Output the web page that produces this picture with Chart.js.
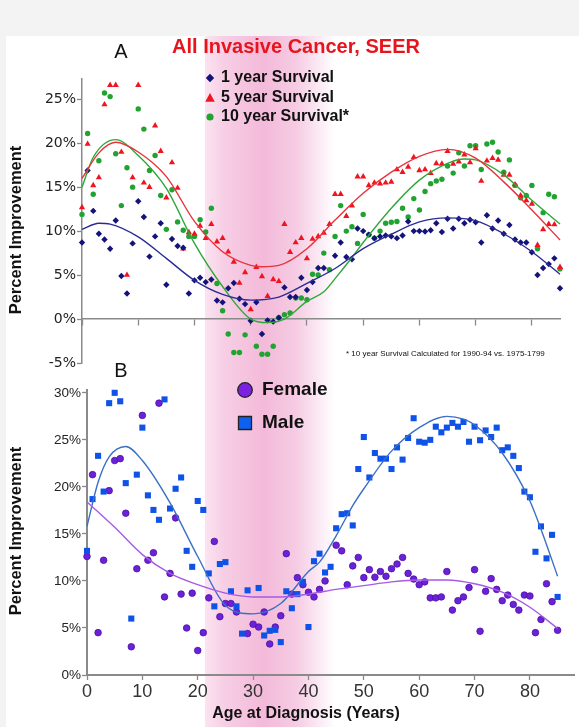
<!DOCTYPE html>
<html><head><meta charset="utf-8">
<script src="https://cdn.jsdelivr.net/npm/chart.js@4/dist/chart.umd.min.js"></script>
<style>
html,body{margin:0;padding:0;background:#fff;}
#wrap{position:relative;width:579px;height:727px;overflow:hidden;background:#fff;}
#ca{position:absolute;left:0;top:0;}
#cb{position:absolute;left:0;top:380px;}
</style></head><body>
<div id="wrap">
<canvas id="cb" width="579" height="347"></canvas>
<canvas id="ca" width="579" height="380"></canvas>
</div>
<script>
// ---------- DATA ----------
const ages = [0,1,2,3,4,5,6,7,8,9,10,11,12,13,14,15,16,17,18,19,20,21,22,23,24,25,26,27,28,29,30,31,32,33,34,35,36,37,38,39,40,41,42,43,44,45,46,47,48,49,50,51,52,53,54,55,56,57,58,59,60,61,62,63,64,65,66,67,68,69,70,71,72,73,74,75,76,77,78,79,80,81,82,83,84,85];

// Panel A (% improvement)
const oneYear = [8.7,16.9,12.3,9.7,9.05,8.0,11.2,4.9,2.9,8.6, 13.4,11.6,7.1,9.4,10.9,3.9,9.1,8.3,8.1,2.9, 4.4,4.7,4.2,4.5,2.1,1.9,3.5,4.1,2.3,1.7, -0.2,1.9,-1.7,-0.15,-0.3,0.15,3.6,2.5,2.5,4.7, 3.3,4.2,5.8,5.8,null,7.2,8.7,7.05,6.8,10.3, 10.0,9.6,9.2,9.4,9.5,9.4,9.2,9.5,11.1,10.0, 10.0,9.95,10.1,10.9,9.9,11.4,10.3,11.4,10.9,11.3, 11.0,8.7,11.8,10.3,11.2,9.7,10.7,9.05,8.7,8.7, 7.6,5.0,5.8,6.25,6.9,3.5];
const fiveYear = [12.7,19.9,15.2,16.1,24.4,26.6,26.6,19.0,5.0,16.1, 26.6,15.5,15.0,22.0,19.1,13.8,17.8,14.9,8.0,9.85, 9.7,10.6,9.2,10.8,8.8,9.2,7.65,6.5,4.1,5.3, 1.1,5.9,4.85,2.6,4.5,4.3,10.8,7.6,8.7,9.2, 6.9,9.1,9.4,9.8,10.8,14.2,14.2,11.7,12.9,16.2, 16.2,15.2,15.5,15.4,15.5,15.6,17.0,16.7,17.3,18.4, 16.9,17.0,16.6,17.7,17.65,19.1,17.65,17.9,18.7,17.8, 19.4,15.7,18.0,18.3,18.1,16.4,16.4,15.3,14.05,13.5, 13.1,8.4,10.2,10.8,10.75,5.9];
const tenYear = [11.9,21.1,14.2,18.0,25.7,25.3,18.8,12.9,17.2,15.0, 23.9,21.6,16.9,18.6,14.05,10.2,14.7,11.05,10.1,9.4, 9.4,11.3,9.9,12.6,4.05,0.95,-1.7,-3.8,-3.8,-1.8, null,-3.1,-4.0,-4.0,-3.1,0.15,0.5,0.7,2.4,2.4, 2.2,5.1,5.0,7.5,5.6,9.4,12.9,10.0,10.5,8.6, 11.9,9.6,9.2,10.0,10.9,11.0,11.1,12.6,11.6,13.7, 12.4,14.5,15.4,15.7,15.9,17.4,16.6,18.9,17.4,19.7, 19.7,17.0,19.9,20.1,19.0,16.7,18.1,15.2,13.8,14.05, 15.2,8.0,12.1,14.2,13.9,5.7];

// Panel A fitted curves
const fit1Ages = [0,3,5,10,15,20,25,30,35,40,45,50,55,60,65,70,75,80,85];
const fit1Vals = [10.2,10.9,10.8,9.35,6.9,4.4,2.8,2.15,2.5,4.05,5.75,8.0,9.65,11.05,11.5,11.2,9.7,7.65,5.1];
const fit5Ages = [0,3,6,10,15,20,25,30,32,35,40,45,50,55,60,65,70,75,80,85];
const fit5Vals = [16.0,18.9,20.1,19.0,16.2,11.1,7.65,6.1,5.95,6.1,8.0,11.25,14.3,16.7,18.5,19.3,18.3,15.6,12.4,9.0];
const fit10Ages = [0,2,6,10,15,20,25,30,33,36,40,43,45,48,50,55,60,65,68,70,75,80,85];
const fit10Vals = [15.0,18.4,20.4,18.6,14.85,8.6,3.7,0.0,-0.4,0.0,2.0,3.1,4.6,7.0,8.7,12.6,15.8,17.7,18.2,18.1,16.4,13.5,10.8];

// Panel B (% improvement)
const female = [12.6,21.3,4.5,12.2,19.6,22.8,23.0,17.2,3.0,11.3, 27.6,12.2,13.0,28.9,8.3,10.8,16.7,8.6,5.0,8.7, 2.6,4.5,8.2,14.2,6.2,7.6,7.6,6.7,null,4.4, 5.4,5.1,6.7,3.3,5.1,6.3,12.9,8.6,10.35,9.6, 8.8,8.3,9.1,10.0,null,13.8,13.2,9.6,11.6,12.5, 10.35,11.2,10.4,11.0,10.5,11.3,11.8,12.5,10.8,10.2, 9.6,9.9,8.2,8.2,8.3,11.0,6.9,7.9,8.3,9.3, 11.2,4.65,8.9,10.25,9.1,7.9,8.5,7.5,6.9,8.5, 8.4,4.5,5.9,9.7,7.8,4.75];
const male = [13.2,18.7,23.3,19.5,28.9,30.0,29.1,20.4,6.0,21.3, 26.3,19.1,17.55,16.5,29.3,17.7,19.8,21.0,13.2,11.5, 18.5,17.55,10.8,7.3,11.8,12.0,8.9,7.3,4.4,9.0, null,9.25,4.2,4.7,4.8,3.5,8.9,7.1,8.6,9.9, 5.1,12.1,12.9,10.9,11.5,15.6,17.1,17.2,15.9,21.9, 25.3,21.0,23.6,23.0,23.0,21.9,24.2,22.9,25.2,27.3, 24.8,24.7,25.0,26.4,25.8,26.3,26.8,26.4,26.9,24.8, 26.4,24.96,26.0,25.3,26.3,23.9,24.2,23.3,22.0,19.5, 18.9,13.1,15.8,12.4,14.9,8.3];

const fitMaleAges = [0,2,4,7,10,15,20,25,30,35,40,42,45,48,50,55,60,65,68,70,75,80,82,85];
const fitMaleVals = [15.8,20.5,23.2,24.3,22.8,18.3,12.6,7.4,6.5,7.6,11.0,12.0,14.8,18.0,19.8,23.8,26.3,27.5,27.2,26.6,23.6,18.5,15.5,10.5];
const fitFemaleAges = [0,5,10,15,20,25,30,35,40,45,50,55,60,65,70,75,80,85];
const fitFemaleVals = [18.4,15.7,12.8,10.8,9.6,8.7,8.3,8.3,8.6,9.1,9.5,9.9,10.1,10.1,9.7,8.8,7.2,4.95];

const tickStepX = 10;
const tickStepY = 5;
const bandAges = [21.3, 44.8];   // shaded age band

// ---------- helpers ----------
function pts(xs, ys){ const o=[]; xs.forEach((x,i)=>{ if(ys[i]!==null) o.push({x:x,y:ys[i]}); }); return o; }
const FONT = '"Liberation Sans", Arial, sans-serif';
const axisGray = '#8a8a8a';
const navy='#13137a', red='#f0141e', green='#21a331';
const purple='#6b22d6', purpleB='#4b0fa8', blue='#0f52e8';

function marker(ctx, style, x, y, r, fill, stroke, lw){
  ctx.save(); ctx.beginPath();
  if(style==='diamond'){ctx.moveTo(x,y-r);ctx.lineTo(x+r,y);ctx.lineTo(x,y+r);ctx.lineTo(x-r,y);ctx.closePath();}
  else if(style==='triangle'){ctx.moveTo(x,y-r);ctx.lineTo(x+r*0.95,y+r*0.75);ctx.lineTo(x-r*0.95,y+r*0.75);ctx.closePath();}
  else if(style==='circle'){ctx.arc(x,y,r,0,Math.PI*2);}
  else {ctx.rect(x-r,y-r,2*r,2*r);}
  ctx.fillStyle=fill; ctx.fill();
  if(stroke){ctx.strokeStyle=stroke;ctx.lineWidth=lw;ctx.stroke();}
  ctx.restore();
}
function text(ctx, s, x, y, font, color, align, rot, maxW){
  ctx.save(); ctx.translate(x,y); if(rot) ctx.rotate(rot);
  ctx.font=font; ctx.fillStyle=color; ctx.textAlign=align||'left'; ctx.textBaseline='middle';
  if(maxW) ctx.fillText(s,0,0,maxW); else ctx.fillText(s,0,0);
  ctx.restore();
}

const bandPlugin = {
  id:'band',
  beforeDraw(chart){
    const xs = (window.chartB || chart).scales.x;
    const x0 = xs.getPixelForValue(bandAges[0]), x1 = xs.getPixelForValue(bandAges[1]);
    const ctx = chart.ctx; ctx.save();
    const g = ctx.createLinearGradient(x0,0,x1,0);
    g.addColorStop(0,'rgb(251,228,241)');
    g.addColorStop(0.15,'rgb(247,206,229)');
    g.addColorStop(0.45,'rgb(243,186,217)');
    g.addColorStop(0.7,'rgb(246,203,227)');
    g.addColorStop(1,'rgb(255,255,255)');
    ctx.fillStyle=g; ctx.fillRect(x0,0,x1-x0,chart.height);
    ctx.restore();
  }
};

const annotA = {
  id:'annotA',
  afterDraw(chart){
    const ctx = chart.ctx;
    ctx.save();
    ctx.fillStyle='#f3f3f3'; ctx.fillRect(0,0,chart.width,36); ctx.fillRect(0,36,6,chart.height-36);
    ctx.restore();
    text(ctx,'A',121,52,'20px '+FONT,'#111','center');
    text(ctx,'All Invasive Cancer, SEER',296,47,'bold 20px '+FONT,'#e8141c','center');
    marker(ctx,'diamond',210,78,4.2,navy);
    marker(ctx,'triangle',210,98,5,red);
    marker(ctx,'circle',210,117,3.6,green);
    const lf='bold 16px '+FONT;
    text(ctx,'1 year Survival',221,78,lf,'#111');
    text(ctx,'5 year Survival',221,97.5,lf,'#111');
    text(ctx,'10 year Survival*',221,117,lf,'#111');
    text(ctx,'* 10 year Survival Calculated for 1990-94 vs. 1975-1799',346,354,'8px '+FONT,'#111','left',0,208);
    text(ctx,'Percent Improvement',16,230,'bold 16.5px '+FONT,'#111','center',-Math.PI/2);
    text(ctx,'B',121,371,'20px '+FONT,'#111','center');
  }
};
const annotB = {
  id:'annotB',
  afterDraw(chart){
    const ctx = chart.ctx;
    ctx.save(); ctx.fillStyle='#f3f3f3'; ctx.fillRect(0,0,6,chart.height); ctx.restore();
    marker(ctx,'circle',245,10,7.3,'#7a22e0','#222',1.3);
    marker(ctx,'square',245,43,6.5,'#1060f0','#222',1.3);
    const lf='bold 19px '+FONT;
    text(ctx,'Female',262,10,lf,'#111');
    text(ctx,'Male',262,43,lf,'#111');
    text(ctx,'Age at Diagnosis (Years)',306,334,'bold 16px '+FONT,'#111','center');
    text(ctx,'Percent Improvement',16,151,'bold 16.5px '+FONT,'#111','center',-Math.PI/2);
  }
};

function fitDs(xs, ys, color){
  return {type:'line', data:pts(xs,ys), borderColor:color, borderWidth:1.4, pointRadius:0, fill:false,
          cubicInterpolationMode:'monotone', order:1, clip:false};
}

// ---------- Chart B ----------
window.chartB = null;
const chartB = new Chart(document.getElementById('cb'), {
  type:'scatter',
  data:{datasets:[
    {label:'Female', data:pts(ages,female), pointStyle:'circle', pointRadius:3.3, backgroundColor:purple, borderColor:purpleB, borderWidth:0.8, order:3, clip:false},
    {label:'Male', data:pts(ages,male), pointStyle:'rect', pointRadius:4.3, backgroundColor:blue, borderColor:blue, borderWidth:0, order:2, clip:false},
    fitDs(fitFemaleAges, fitFemaleVals, '#a65ae6'),
    fitDs(fitMaleAges, fitMaleVals, '#3b70c4')
  ]},
  options:{
    responsive:false, animation:false, devicePixelRatio:1,
    layout:{padding:{top:10,right:1,bottom:0,left:0}},
    plugins:{legend:{display:false}, tooltip:{enabled:false}},
    scales:{
      x:{type:'linear', min:0, max:88,
         ticks:{stepSize:tickStepX, includeBounds:false, font:{family:FONT,size:18}, color:'#333', padding:1, maxRotation:0},
         grid:{drawOnChartArea:false, drawTicks:true, tickLength:5, tickColor:axisGray, tickWidth:1.3},
         border:{color:axisGray, width:2},
         afterFit(s){ s.height = 52; }},
      y:{min:0, max:30.3,
         ticks:{stepSize:tickStepY, includeBounds:false, callback:v=>v+'%', font:{family:FONT,size:13.5}, color:'#222', padding:1},
         grid:{drawOnChartArea:false, drawTicks:true, tickLength:5, tickColor:axisGray, tickWidth:1.3},
         border:{color:axisGray, width:2},
         afterFit(s){ s.width = 87; }}
    }
  },
  plugins:[bandPlugin, annotB]
});
window.chartB = chartB;

// ---------- Chart A ----------
const chartA = new Chart(document.getElementById('ca'), {
  type:'scatter',
  data:{datasets:[
    {label:'10 year Survival*', data:pts(ages,tenYear), pointStyle:'circle', pointRadius:2.7, backgroundColor:green, borderColor:green, borderWidth:0, order:4, clip:false},
    {label:'5 year Survival', data:pts(ages,fiveYear), pointStyle:'triangle', pointRadius:3.6, backgroundColor:red, borderColor:red, borderWidth:0, order:3, clip:false},
    {label:'1 year Survival', data:pts(ages,oneYear), pointStyle:'rectRot', pointRadius:3.2, backgroundColor:navy, borderColor:navy, borderWidth:0, order:2, clip:false},
    fitDs(fit1Ages, fit1Vals, '#2b2b96'),
    fitDs(fit5Ages, fit5Vals, '#e8323c'),
    fitDs(fit10Ages, fit10Vals, '#2fa83a')
  ]},
  options:{
    responsive:false, animation:false, devicePixelRatio:1,
    layout:{padding:{top:79,right:19,bottom:17,left:0}},
    plugins:{legend:{display:false}, tooltip:{enabled:false}},
    scales:{
      x:{type:'linear', min:0, max:85, position:{y:0},
         ticks:{display:false, stepSize:tickStepX, includeBounds:false},
         grid:{display:true, drawOnChartArea:false, drawTicks:true, tickLength:6, tickColor:axisGray, tickWidth:1.3},
         border:{color:axisGray, width:1.5}},
      y:{min:-5, max:27.3,
         ticks:{stepSize:tickStepY, includeBounds:false, callback:v=>v+'%', font:{family:'"DejaVu Sans", sans-serif',size:14}, color:'#222', padding:1},
         grid:{drawOnChartArea:false, drawTicks:true, tickLength:5, tickColor:axisGray, tickWidth:1.3},
         border:{color:axisGray, width:1.5},
         afterFit(s){ s.width = 82; }}
    }
  },
  plugins:[bandPlugin, annotA]
});
</script>
</body></html>
